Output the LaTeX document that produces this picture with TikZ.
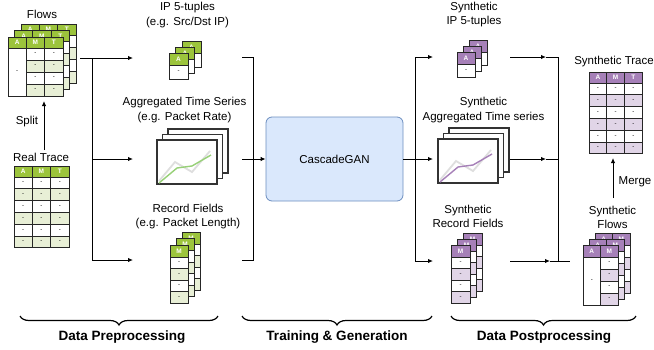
\documentclass[tikz,border=0pt]{standalone}
\usepackage{fontspec}
\setmainfont{Liberation Sans}
\usetikzlibrary{positioning, calc}
\usetikzlibrary{arrows.meta}
\usetikzlibrary{decorations.pathreplacing}

\definecolor{hdgreen}{HTML}{9CC43C}
\definecolor{rowgreen}{HTML}{E8EFD6}
\definecolor{hdpurple}{HTML}{A680B8}
\definecolor{rowpurple}{HTML}{E1D5E7}
\definecolor{ganfill}{HTML}{DAE8FC}
\definecolor{ganline}{HTML}{6C8EBF}
\definecolor{trendgreen}{HTML}{97D077}

\tikzset{
  cellline/.style={draw=black!85, line width=0.7pt},
  headtxt/.style={text=white, font=\fontsize{6.5}{7}\selectfont\bfseries, inner sep=0},
  celltxt/.style={font=\fontsize{6}{7}\selectfont, inner sep=0},
  frame/.style={draw=black!80, line width=1.2pt, fill=white},
  greyline/.style={draw=black!13, line width=1.8pt},
  trend/.style={line width=1.4pt},
  lbl/.style={font=\fontsize{11.5}{14.5}\selectfont, align=center, inner sep=0},
  part/.style={font=\fontsize{13.5}{16}\selectfont\bfseries, inner sep=0},
  ganbox/.style={draw=ganline, fill=ganfill, rounded corners=6pt, line width=0.8pt,
    font=\fontsize{11.5}{14}\selectfont},
  link/.style={line width=1pt},
  arr/.style={link, -{Latex[length=5pt,width=4.5pt]}},
  curly/.style={line width=1.2pt, decorate, decoration={brace, mirror, amplitude=9pt}}
}

% one table: #1 rows, #2 name prefix, #3 head colour, #4 row colour, #5 header letters
\newcommand{\sheet}[5]{%
  \foreach \hd [count=\i from 0] in {#5}{%
    \filldraw[cellline, fill=#3] (\i*\colw,0) rectangle ++(\colw,\headh);
    \node[headtxt] (#2h\i) at (\i*\colw+0.5*\colw,0.5*\headh) {\hd};
    \foreach \rw in {1,...,#1}{%
      \ifodd\rw\def\rowfill{white}\else\def\rowfill{#4}\fi
      \filldraw[cellline, fill=\rowfill] (\i*\colw,\headh+\rw*\rowh-\rowh) rectangle ++(\colw,\rowh);
      \node[celltxt] (#2c\i\rw) at (\i*\colw+0.5*\colw,\headh+\rw*\rowh-0.5*\rowh) {-};
    }
  }
}

% stack of three plot frames, #1 trend colour
\newcommand{\plotstack}[1]{%
  \foreach \k in {2,1,0}{
    \filldraw[frame] (\k*5.5,-\k*5.5) rectangle ++(60,44);
  }
  \draw[greyline] (2,41) -- (18,22) -- (35,32) -- (53,11);
  \draw[trend, draw=#1] (2,43) -- (20,28) -- (35,26) -- (54,15);
}

\begin{document}
\begin{tikzpicture}[x=1pt, y=-1pt]
\useasboundingbox (0,0) rectangle (654,349);

% ---- input side
\foreach \k in {2,1,0}{
  \begin{scope}[shift={(8+\k*6.5,37-\k*6.5)}]
    \def\colw{18.3}\def\headh{11}\def\rowh{12}
    \sheet{4}{fl\k}{hdgreen}{rowgreen}{A,M,T}
    \filldraw[cellline, fill=white] (0,\headh) rectangle (\colw,\headh+4*\rowh);
    \node[celltxt] (fla\k) at (0.5*\colw,\headh+2*\rowh) {-};
  \end{scope}
}
\begin{scope}[shift={(14,166)}]
  \def\colw{18.3}\def\headh{11}\def\rowh{11.8}
  \sheet{6}{rt}{hdgreen}{rowgreen}{A,M,T}
\end{scope}
\node[lbl] (flowslbl) at (42,14) {Flows};
\node[lbl] (splitlbl) at (27,122) {Split};
\node[lbl] (reallbl) at (41,157) {Real Trace};

\foreach \k in {2,1,0}{
  \begin{scope}[shift={(169+\k*6.5,53-\k*6)}]
    \def\colw{19}\def\headh{12}\def\rowh{14}
    \sheet{1}{ip\k}{hdgreen}{rowgreen}{A}
  \end{scope}
}
\begin{scope}[shift={(157,140)}]
  \plotstack{trendgreen}
\end{scope}
\foreach \k in {2,1,0}{
  \begin{scope}[shift={(170+\k*6,245-\k*6.5)}]
    \def\colw{18}\def\headh{12}\def\rowh{11.5}
    \sheet{4}{rf\k}{hdgreen}{rowgreen}{M}
  \end{scope}
}
\node[lbl] (iplbl) at (187.5,15) {IP 5-tuples\\(e.g. Src/Dst IP)};
\node[lbl] (tslbl) at (184.5,110) {Aggregated Time Series\\(e.g. Packet Rate)};
\node[lbl] (rflbl) at (188,216.5) {Record Fields\\(e.g. Packet Length)};

% ---- model
\node[ganbox, minimum width=137, minimum height=84] (gan) at (334.5,159) {CascadeGAN};

% ---- output side
\foreach \k in {2,1,0}{
  \begin{scope}[shift={(457+\k*6,52-\k*6)}]
    \def\colw{18}\def\headh{12}\def\rowh{13}
    \sheet{1}{sip\k}{hdpurple}{rowpurple}{A}
  \end{scope}
}
\begin{scope}[shift={(438,139)}]
  \plotstack{hdpurple}
\end{scope}
\foreach \k in {2,1,0}{
  \begin{scope}[shift={(451+\k*6,245-\k*6)}]
    \def\colw{19}\def\headh{12}\def\rowh{11.5}
    \sheet{4}{srf\k}{hdpurple}{rowpurple}{M}
  \end{scope}
}
\begin{scope}[shift={(589,72)}]
  \def\colw{17.7}\def\headh{11}\def\rowh{11.8}
  \sheet{6}{st}{hdpurple}{rowpurple}{A,M,T}
\end{scope}
\foreach \k in {2,1,0}{
  \begin{scope}[shift={(583+\k*6,245-\k*6)}]
    \def\colw{17.5}\def\headh{12}\def\rowh{12}
    \sheet{4}{sf\k}{hdpurple}{rowpurple}{A,M}
    \filldraw[cellline, fill=white] (0,\headh) rectangle (\colw,\headh+4*\rowh);
    \node[celltxt] (sfa\k) at (0.5*\colw,\headh+2*\rowh) {-};
  \end{scope}
}
\node[lbl] (siplbl) at (474,14.5) {Synthetic\\IP 5-tuples};
\node[lbl] (stslbl) at (483.5,110) {Synthetic\\Aggregated Time series};
\node[lbl] (srflbl) at (468,216.5) {Synthetic\\Record Fields};
\node[lbl] (strlbl) at (614,62) {Synthetic Trace};
\node[lbl] (mergelbl) at (635,182) {Merge};
\node[lbl] (sfllbl) at (612.5,217.5) {Synthetic\\Flows};

% ---- connectors
\coordinate (splitfrom) at (44,150);
\coordinate (splitto) at (44,101);
\draw[arr] (splitfrom) -- (splitto);

\coordinate (fo) at (80,58);
\coordinate (ja) at (92,58);
\coordinate (jb) at (92,260);
\coordinate (ipin) at (133,58);
\coordinate (tsin) at (133,159);
\coordinate (rfin) at (133,260);
\draw[link] (fo) -- (ja) -- (jb);
\draw[arr] (ja) -- (ipin);
\draw[arr] (ja |- tsin) -- (tsin);
\draw[arr] (jb) -- (rfin);

\coordinate (ipout) at (242,57);
\coordinate (jc) at (253,57);
\coordinate (jd) at (253,260);
\coordinate (tsout) at (242,159);
\coordinate (rfout) at (242,260);
\draw[link] (ipout) -- (jc) -- (jd) -- (rfout);
\draw[arr] (tsout) -- (gan.west);

\coordinate (je) at (415,57);
\coordinate (jf) at (415,261);
\coordinate (sipin) at (433,57);
\coordinate (stsin) at (433,159);
\coordinate (srfin) at (433,261);
\draw[link] (gan.east) -- (gan.east -| je);
\draw[link] (je) -- (jf);
\draw[arr] (je) -- (sipin);
\draw[arr] (je |- stsin) -- (stsin);
\draw[arr] (jf) -- (srfin);

\coordinate (sipout) at (510,57);
\coordinate (siparr) at (546,57);
\coordinate (jg) at (558,57);
\coordinate (jh) at (558,261);
\coordinate (stsout) at (510,159);
\coordinate (stsarr) at (546,159);
\coordinate (srfout) at (510,261);
\coordinate (srfarr) at (550,261);
\coordinate (sfin) at (570,261);
\draw[arr] (sipout) -- (siparr);
\draw[link] (siparr) -- (jg) -- (jh);
\draw[arr] (stsout) -- (stsarr);
\draw[link] (stsarr) -- (stsarr -| jg);
\draw[arr] (srfout) -- (srfarr);
\draw[link] (srfarr) -- (sfin);

\coordinate (mergefrom) at (613,198);
\coordinate (mergeto) at (613,158);
\draw[arr] (mergefrom) -- (mergeto);

% ---- stages
\draw[curly] (20,316) -- (218,316);
\draw[curly] (242,316) -- (432,316);
\draw[curly] (451,316) -- (636,316);
\node[part] (prelbl) at (122,337) {Data Preprocessing};
\node[part] (trainlbl) at (337,337) {Training \& Generation};
\node[part] (postlbl) at (544,337) {Data Postprocessing};
\end{tikzpicture}
\end{document}
